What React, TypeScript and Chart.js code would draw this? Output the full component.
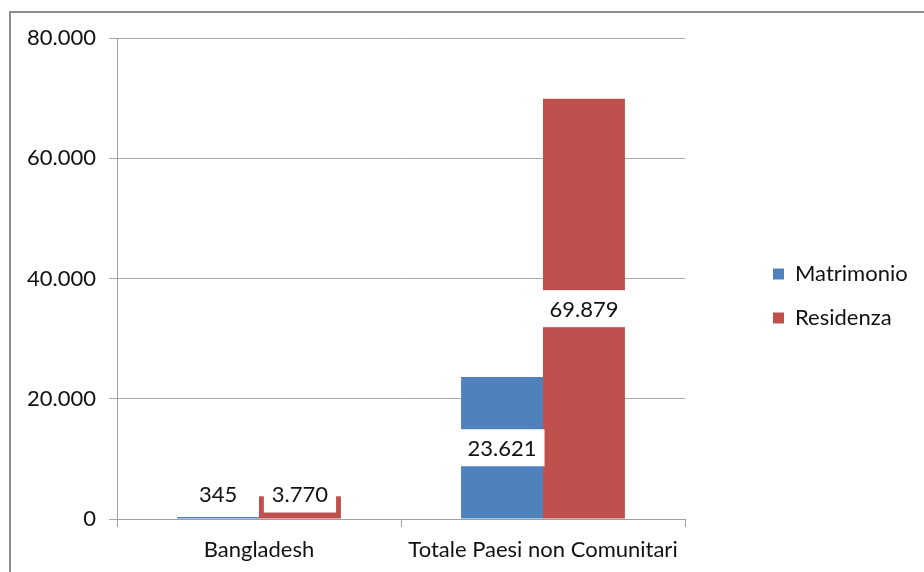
import React, { useEffect, useRef } from 'react';
import { Chart, registerables } from 'chart.js';

Chart.register(...registerables);

const categories = ['Bangladesh', 'Totale Paesi non Comunitari'];
const seriesNames = ['Matrimonio', 'Residenza'];
const matrimonio = [345, 23621];
const residenza = [3770, 69879];
const seriesColors = ['#4F81BD', '#C0504D'];
const yMin = 0;
const yMax = 80000;
const yStep = 20000;

const FONT = 'Lato, "Liberation Sans", sans-serif';
const FS = 22;
const fmt = (v: number) => String(Math.round(v)).replace(/\B(?=(\d{3})+(?!\d))/g, '.');

const framePlugin = {
  id: 'frame',
  beforeDraw(chart: any) {
    const ctx = chart.ctx;
    ctx.save();
    ctx.fillStyle = '#ffffff';
    ctx.fillRect(0, 0, chart.width, chart.height);
    ctx.strokeStyle = '#8c8c8c';
    ctx.lineWidth = 2;
    ctx.strokeRect(10, 12, chart.width + 20, chart.height + 20);
    ctx.restore();
  },
};

const legendPlacePlugin = {
  id: 'legendPlace',
  beforeInit(chart: any) {
    const lg = chart.legend;
    if (lg) {
      const orig = lg.fit.bind(lg);
      lg.fit = function () {
        orig();
        this.width = 239;
      };
    }
  },
  afterLayout(chart: any) {
    const lg = chart.legend;
    if (lg) {
      lg.left = 751;
      lg.top = 241;
    }
  },
};

const valueLabelPlugin = {
  id: 'valueLabels',
  afterDatasetsDraw(chart: any) {
    const ctx = chart.ctx;
    ctx.save();
    ctx.font = `${FS}px ${FONT}`;
    ctx.textAlign = 'center';
    ctx.textBaseline = 'middle';
    chart.data.datasets.forEach((ds: any, di: number) => {
      const meta = chart.getDatasetMeta(di);
      meta.data.forEach((bar: any, i: number) => {
        const text = fmt(ds.data[i]);
        const w = ctx.measureText(text).width + 16;
        const h = 37;
        const { x, y, base } = bar.getProps(['x', 'y', 'base'], true);
        let cy = (y + base) / 2;
        cy = Math.min(cy, base - 6 - h / 2);
        ctx.fillStyle = '#ffffff';
        ctx.fillRect(x - w / 2, cy - h / 2, w, h);
        ctx.fillStyle = '#111111';
        ctx.fillText(text, x, cy + 1);
      });
    });
    ctx.restore();
  },
};

export default function App() {
  const ref = useRef<HTMLCanvasElement | null>(null);

  useEffect(() => {
    if (!ref.current) return;
    const chart = new Chart(ref.current, {
      type: 'bar',
      data: {
        labels: categories,
        datasets: [
          { label: seriesNames[0], data: matrimonio, backgroundColor: seriesColors[0] },
          { label: seriesNames[1], data: residenza, backgroundColor: seriesColors[1] },
        ],
      },
      options: {
        responsive: false,
        animation: false,
        events: [],
        datasets: {
          bar: { categoryPercentage: 0.577, barPercentage: 1 },
        },
        layout: { padding: { left: 10, top: 38, right: 0, bottom: 0 } },
        scales: {
          x: {
            grid: {
              offset: true,
              drawOnChartArea: false,
              drawTicks: true,
              tickLength: 8,
              color: '#a0a0a0',
            },
            border: { display: true, color: '#a0a0a0' },
            ticks: {
              color: '#111111',
              font: { family: FONT, size: FS },
              padding: 10,
              maxRotation: 0,
              autoSkip: false,
            },
            afterFit: (s: any) => {
              s.height = 53;
            },
          },
          y: {
            min: yMin,
            max: yMax,
            grid: { color: '#a6a6a6', tickLength: 8, drawTicks: true, lineWidth: 1 },
            border: { display: true, color: '#a0a0a0' },
            ticks: {
              stepSize: yStep,
              color: '#111111',
              font: { family: FONT, size: FS },
              padding: 13,
              callback: (v: any) => fmt(Number(v)),
            },
            afterFit: (s: any) => {
              s.width = 107;
            },
          },
        },
        plugins: {
          title: { display: false },
          tooltip: { enabled: false },
          legend: {
            display: true,
            position: 'right',
            align: 'start',
            labels: {
              boxWidth: 11,
              boxHeight: 11,
              padding: 22,
              color: '#111111',
              font: { family: FONT, size: FS },
            },
          },
        },
      },
      plugins: [framePlugin, legendPlacePlugin, valueLabelPlugin],
    } as any);
    return () => chart.destroy();
  }, []);

  return (
    <div style={{ position: 'absolute', left: 0, top: 0, width: 924, height: 572 }}>
      <canvas ref={ref} width={924} height={572} style={{ display: 'block' }} />
    </div>
  );
}
